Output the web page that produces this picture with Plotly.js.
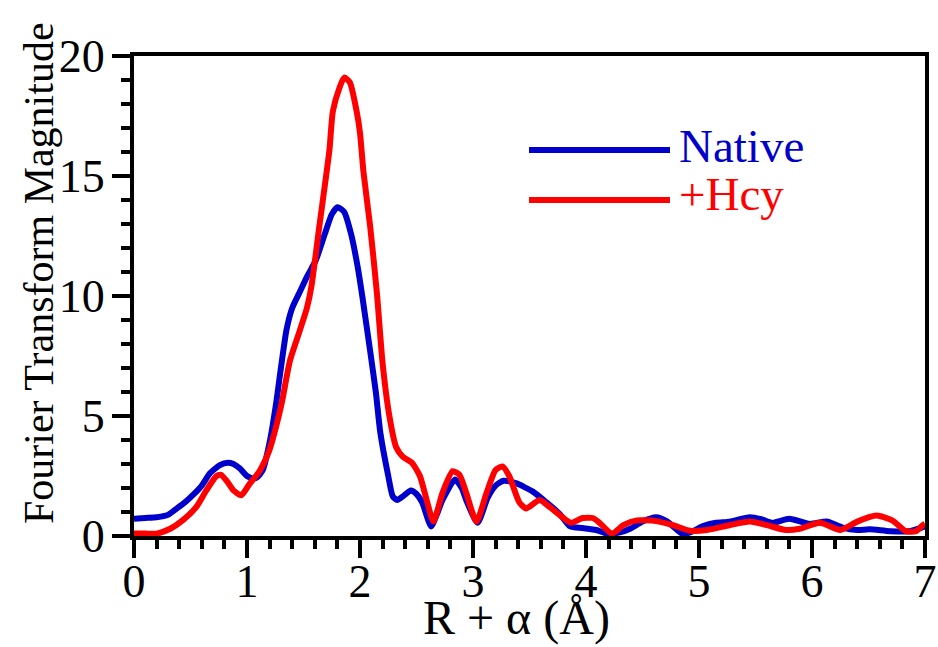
<!DOCTYPE html>
<html>
<head>
<meta charset="utf-8">
<script src="https://cdn.plot.ly/plotly-3.0.1.min.js"></script>
<style>html,body{margin:0;padding:0;background:#fff;}#chart{width:938px;height:647px;}</style>
</head>
<body>
<div id="chart"></div>
<script>
// R + alpha (Angstrom)
const nativeR = [0.00,0.10,0.20,0.25,0.30,0.38,0.45,0.52,0.60,0.67,0.76,0.83,0.88,0.94,1.00,1.05,1.09,1.14,1.20,1.26,1.30,1.35,1.40,1.46,1.53,1.61,1.69,1.75,1.80,1.86,1.92,1.98,2.02,2.09,2.14,2.18,2.25,2.29,2.33,2.38,2.45,2.50,2.55,2.63,2.68,2.73,2.84,2.90,2.94,3.04,3.13,3.20,3.27,3.38,3.53,3.65,3.77,3.86,3.97,4.09,4.20,4.30,4.39,4.50,4.62,4.72,4.85,4.92,5.03,5.15,5.27,5.45,5.55,5.65,5.80,5.98,6.13,6.27,6.40,6.51,6.69,6.86,6.97,7.00];
const nativeFT = [0.72,0.75,0.78,0.82,0.88,1.15,1.40,1.70,2.10,2.60,2.95,3.05,3.00,2.80,2.50,2.40,2.45,2.75,3.90,5.60,7.00,8.60,9.50,10.1,10.8,11.5,12.6,13.4,13.7,13.5,12.6,11.2,10.0,7.7,6.0,4.3,2.5,1.65,1.5,1.65,1.9,1.75,1.4,0.4,0.9,1.5,2.35,2.0,1.5,0.55,1.6,2.1,2.3,2.2,1.85,1.4,0.9,0.4,0.33,0.25,0.08,0.15,0.3,0.6,0.78,0.6,0.1,0.15,0.4,0.55,0.6,0.78,0.7,0.55,0.72,0.5,0.6,0.35,0.25,0.28,0.2,0.2,0.35,0.4];

const hcyR = [0.00,0.10,0.20,0.32,0.43,0.55,0.64,0.73,0.77,0.82,0.88,0.95,1.02,1.11,1.20,1.26,1.31,1.38,1.47,1.53,1.57,1.64,1.70,1.73,1.76,1.82,1.86,1.91,1.97,2.00,2.03,2.09,2.15,2.20,2.26,2.32,2.38,2.46,2.53,2.59,2.65,2.73,2.82,2.88,2.94,3.03,3.12,3.20,3.26,3.32,3.41,3.47,3.59,3.68,3.80,3.87,3.97,4.06,4.12,4.23,4.33,4.45,4.62,4.77,4.92,5.07,5.27,5.45,5.60,5.77,5.89,6.07,6.25,6.40,6.57,6.71,6.83,6.92,6.98,7.00];
const hcyFT = [0.10,0.10,0.10,0.30,0.65,1.20,1.90,2.50,2.55,2.30,1.90,1.70,2.15,2.70,3.60,4.60,5.60,7.30,8.60,9.50,10.4,12.9,15.0,16.1,17.7,18.7,19.1,18.9,17.7,16.8,15.2,12.9,10.1,7.2,5.0,3.7,3.3,3.05,2.5,1.5,0.6,1.8,2.7,2.55,1.8,0.6,1.8,2.75,2.9,2.5,1.4,1.15,1.5,1.2,0.75,0.55,0.75,0.75,0.55,0.1,0.45,0.65,0.62,0.45,0.22,0.25,0.45,0.6,0.45,0.25,0.3,0.55,0.25,0.6,0.85,0.65,0.2,0.2,0.45,0.5];

const seriesNames = ["Native", "+Hcy"];
const xTitle = "R + α (Å)";
const yTitle = "Fourier Transform Magnitude";

const BLUE = "#0000CC", RED = "#FF0000";
const FONT = "'Liberation Serif', serif";

const traces = [
  {x: nativeR, y: nativeFT, name: seriesNames[0], mode: "lines",
   line: {color: BLUE, width: 6, shape: "spline", smoothing: 0.6}},
  {x: hcyR, y: hcyFT, name: seriesNames[1], mode: "lines",
   line: {color: RED, width: 6, shape: "spline", smoothing: 0.6}}
];

const axisCommon = {
  showgrid: false, zeroline: false, showline: true, linecolor: "#000", linewidth: 4,
  mirror: true, ticks: "outside", ticklen: 18, tickwidth: 4, tickcolor: "#000",
  tickfont: {family: FONT, size: 46, color: "#000"}
};

const layout = {
  width: 938, height: 647,
  margin: {l: 134, r: 13, t: 56, b: 111},
  paper_bgcolor: "#fff", plot_bgcolor: "#fff",
  showlegend: false,
  xaxis: Object.assign({}, axisCommon, {
    range: [0, 7], dtick: 1, tick0: 0, ticklabelstandoff: -16,
    minor: {dtick: 0.2, ticks: "outside", ticklen: 9, tickwidth: 4, tickcolor: "#000"}
  }),
  yaxis: Object.assign({}, axisCommon, {
    range: [0, 20], dtick: 5, tick0: 0, ticklabelstandoff: -2,
    minor: {dtick: 1, ticks: "outside", ticklen: 9, tickwidth: 4, tickcolor: "#000"}
  }),
  shapes: [
    {type: "line", xref: "paper", yref: "paper", x0: 0.4994, x1: 0.6776, y0: 0.804, y1: 0.804,
     line: {color: BLUE, width: 6}},
    {type: "line", xref: "paper", yref: "paper", x0: 0.4994, x1: 0.6776, y0: 0.70, y1: 0.70,
     line: {color: RED, width: 6}}
  ],
  annotations: [
    {xref: "paper", yref: "paper", x: 0.686, y: 0.8125, xanchor: "left", yanchor: "middle",
     text: seriesNames[0], showarrow: false, font: {family: FONT, size: 47, color: BLUE}},
    {xref: "paper", yref: "paper", x: 0.686, y: 0.7125, xanchor: "left", yanchor: "middle",
     text: seriesNames[1], showarrow: false, font: {family: FONT, size: 47, color: RED}},
    {xref: "paper", yref: "paper", x: -0.12, y: 0.548, xanchor: "center", yanchor: "middle",
     textangle: -90, text: yTitle, showarrow: false, font: {family: FONT, size: 42, color: "#000"}},
    {xref: "paper", yref: "paper", x: 0.484, y: -0.231, xanchor: "center", yanchor: "bottom",
     text: xTitle, showarrow: false, font: {family: FONT, size: 48, color: "#000"}}
  ]
};

Plotly.newPlot("chart", traces, layout, {displayModeBar: false, staticPlot: true});
</script>
</body>
</html>
